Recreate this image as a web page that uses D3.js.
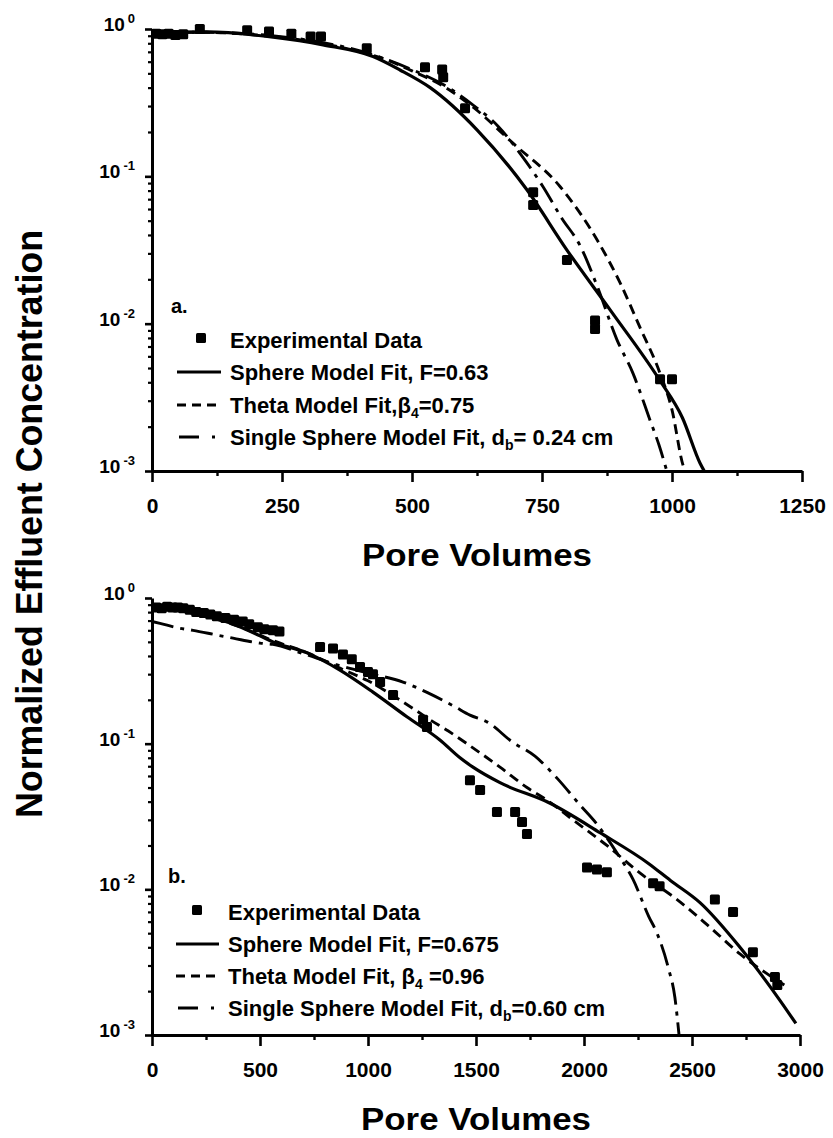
<!DOCTYPE html>
<html><head><meta charset="utf-8">
<script src="https://cdn.jsdelivr.net/npm/d3@7"></script>
<style>
body{margin:0;background:#fff}
text{font-family:"Liberation Sans",Arial,Helvetica,sans-serif;font-weight:bold;fill:#000}
</style>
</head><body>
<svg id="c" width="833" height="1138"></svg>
<script>
// ---------- DATA ----------
// Panel a (x: pore volumes, y: normalized effluent concentration)
const aXTicks = [0, 250, 500, 750, 1000, 1250];
const aXMinor = [125, 375, 625, 875, 1125];
const aExperimental = [[8,0.93],[20,0.92],[32,0.93],[45,0.91],[60,0.92],[92,1.0],[183,0.98],[225,0.96],[268,0.93],[305,0.89],[325,0.89],[413,0.74],[525,0.55],[558,0.53],[560,0.47],[602,0.29],[733,0.078],[733,0.064],[798,0.027],[852,0.0105],[852,0.0092],[977,0.0042],[1000,0.0042]];
const aSphere = [[0,0.94],[105,0.955],[233,0.88],[329,0.78],[425,0.65],[477,0.527],[535,0.40],[625,0.207],[721,0.081],[798,0.0316],[881,0.0124],[977,0.0041],[1020,0.0023],[1054,0.00113],[1062,0.001]];
const aTheta = [[0,0.95],[100,0.95],[200,0.91],[300,0.83],[400,0.70],[450,0.62],[500,0.52],[560,0.41],[620,0.29],[694,0.168],[785,0.085],[860,0.035],[900,0.019],[938,0.0095],[977,0.0046],[1000,0.0026],[1021,0.0011],[1025,0.001]];
const aSingle = [[0,0.95],[100,0.95],[200,0.92],[300,0.84],[400,0.71],[500,0.53],[560,0.42],[620,0.30],[665,0.22],[713,0.135],[752,0.085],[788,0.052],[823,0.034],[856,0.018],[894,0.0078],[925,0.0046],[958,0.0022],[975,0.0015],[990,0.001]];
const aLegend = ["Experimental Data","Sphere Model Fit, F=0.63","Theta Model Fit,|β|4|=0.75","Single Sphere Model Fit, |d|b|= 0.24 cm"];

// Panel b
const bXTicks = [0, 500, 1000, 1500, 2000, 2500, 3000];
const bXMinor = [250, 750, 1250, 1750, 2250, 2750];
const bExperimental = [[20,0.86],[45,0.85],[70,0.87],[95,0.86],[120,0.86],[145,0.85],[175,0.83],[205,0.80],[240,0.79],[270,0.77],[300,0.75],[340,0.73],[380,0.71],[420,0.69],[450,0.66],[490,0.63],[520,0.61],[560,0.60],[590,0.59],[778,0.46],[838,0.45],[884,0.41],[925,0.38],[963,0.336],[1000,0.31],[1023,0.30],[1056,0.265],[1116,0.216],[1255,0.146],[1273,0.13],[1472,0.056],[1519,0.048],[1597,0.034],[1681,0.034],[1713,0.029],[1736,0.024],[2014,0.0141],[2060,0.0137],[2106,0.0131],[2320,0.011],[2350,0.0105],[2606,0.0085],[2690,0.0070],[2782,0.0037],[2884,0.0025],[2895,0.0022]];
const bSphere = [[0,0.88],[100,0.84],[200,0.78],[300,0.72],[400,0.64],[500,0.55],[560,0.50],[718,0.42],[870,0.32],[1023,0.226],[1180,0.153],[1333,0.106],[1426,0.080],[1486,0.069],[1611,0.054],[1843,0.039],[2074,0.0245],[2300,0.015],[2400,0.0115],[2537,0.0081],[2722,0.0040],[2907,0.00173],[2981,0.0012]];
const bTheta = [[0,0.88],[200,0.78],[400,0.64],[560,0.51],[720,0.42],[870,0.33],[1000,0.27],[1194,0.18],[1287,0.146],[1372,0.122],[1458,0.100],[1551,0.080],[1611,0.069],[1736,0.050],[1828,0.041],[1949,0.030],[2106,0.020],[2260,0.0129],[2431,0.0085],[2583,0.0055],[2722,0.0036],[2870,0.0025],[2950,0.0021]];
const bSingle = [[0,0.69],[37,0.67],[116,0.625],[190,0.60],[300,0.557],[375,0.53],[500,0.49],[560,0.48],[700,0.415],[850,0.35],[1000,0.305],[1162,0.265],[1273,0.225],[1400,0.18],[1472,0.157],[1555,0.14],[1667,0.103],[1773,0.082],[1875,0.058],[1981,0.038],[2060,0.028],[2150,0.018],[2227,0.0117],[2300,0.0065],[2338,0.005],[2390,0.0029],[2421,0.0018],[2440,0.001]];
const bLegend = ["Experimental Data","Sphere Model Fit, F=0.675","Theta Model Fit, |β|4| =0.96","Single Sphere Model Fit, |d|b|=0.60 cm"];

const yExponents = [0, -1, -2, -3];
const yMinorMultipliers = [2,3,4,5,6,7,8,9];
const xTitle = "Pore Volumes";
const yTitle = "Normalized Effluent Concentration";

// ---------- DRAW ----------
const svg = d3.select("#c");
svg.append("rect").attr("width",833).attr("height",1138).attr("fill","#fff");

const yMajor = yExponents.map(e => Math.pow(10, e));
const yMinor = [];
yExponents.slice(1).forEach(e => yMinorMultipliers.forEach(m => yMinor.push(m * Math.pow(10, e))));

function panel(cfg) {
  const x = d3.scaleLinear().domain([0, cfg.xMax]).range([cfg.x0, cfg.x1]);
  const y = d3.scaleLog().domain([1e-3, 1]).range([cfg.yBot, cfg.yTop]);
  const g = svg.append("g");

  // x axis
  const xa = g.append("g").attr("transform", `translate(0,${cfg.yBot})`)
    .call(d3.axisBottom(x).tickValues(cfg.xTicks).tickSize(11).tickSizeOuter(0).tickPadding(16).tickFormat(d3.format("d")));
  xa.select(".domain").attr("stroke-width", 3);
  xa.selectAll(".tick line").attr("stroke-width", 2.6);
  xa.selectAll(".tick text").attr("font-size", 21).attr("font-family", '"Liberation Sans",Arial,sans-serif').attr("font-weight", "bold");
  const xm = g.append("g").attr("transform", `translate(0,${cfg.yBot})`)
    .call(d3.axisBottom(x).tickValues(cfg.xMinor).tickSize(5).tickFormat(""));
  xm.select(".domain").remove();
  xm.selectAll(".tick line").attr("stroke-width", 2.4);

  // y axis
  const ya = g.append("g").attr("transform", `translate(${cfg.x0},0)`)
    .call(d3.axisLeft(y).tickValues(yMajor).tickSize(7).tickSizeOuter(0).tickFormat(""));
  ya.select(".domain").attr("stroke-width", 3);
  ya.selectAll(".tick line").attr("stroke-width", 2.6);
  const ym = g.append("g").attr("transform", `translate(${cfg.x0},0)`)
    .call(d3.axisLeft(y).tickValues(yMinor).tickSize(4).tickFormat(""));
  ym.select(".domain").remove();
  ym.selectAll(".tick line").attr("stroke-width", 2.2);

  // y tick labels 10^e
  yExponents.forEach(e => {
    const t = g.append("text").attr("x", cfg.x0 - 17).attr("y", y(Math.pow(10, e)) + 2)
      .attr("text-anchor", "end").attr("font-size", 19);
    t.append("tspan").text("10");
    t.append("tspan").attr("font-size", 13).attr("dx", 3).attr("dy", -8).text(String(e));
  });

  // x title
  g.append("text").attr("x", (cfg.x0 + cfg.x1) / 2).attr("y", cfg.yBot + 95)
    .attr("text-anchor", "middle").attr("font-size", 32)
    .attr("textLength", 230).attr("lengthAdjust", "spacingAndGlyphs").text(xTitle);

  // curves
  const line = d3.line().x(d => x(d[0])).y(d => y(d[1])).curve(d3.curveMonotoneX);
  g.append("path").datum(cfg.sphere).attr("d", line).attr("fill", "none").attr("stroke", "#000").attr("stroke-width", 3.2);
  g.append("path").datum(cfg.theta).attr("d", line).attr("fill", "none").attr("stroke", "#000").attr("stroke-width", 2.9).attr("stroke-dasharray", "10,6");
  g.append("path").datum(cfg.single).attr("d", line).attr("fill", "none").attr("stroke", "#000").attr("stroke-width", 2.9).attr("stroke-dasharray", "22,7,4,7");

  // experimental squares
  g.selectAll("rect.pt").data(cfg.exp).enter().append("rect").attr("class", "pt")
    .attr("x", d => x(d[0]) - 5).attr("y", d => y(d[1]) - 5)
    .attr("width", 10).attr("height", 10).attr("rx", 1.5).attr("fill", "#000");

  // panel letter
  g.append("text").attr("x", cfg.letterX).attr("y", cfg.letterY).attr("font-size", 20).text(cfg.letter);

  // legend
  const L = cfg.legendRows;
  cfg.legend.forEach((lab, i) => {
    const by = L[i];
    const t = g.append("text").attr("x", cfg.legendTextX).attr("y", by).attr("font-size", 22);
    const parts = lab.split("|");
    parts.forEach((p, k) => {
      const ts = t.append("tspan").text(p);
      if (k === 2) ts.attr("font-size", 14).attr("dy", 5);
      if (k === 3) ts.attr("dy", -5);
    });
    const ly = by - 8;
    if (i === 0) {
      g.append("rect").attr("x", cfg.markX - 5).attr("y", by - 15).attr("width", 10).attr("height", 10).attr("rx", 1.5).attr("fill", "#000");
    } else if (i === 1) {
      g.append("line").attr("x1", cfg.lineX0).attr("x2", cfg.lineX1).attr("y1", ly).attr("y2", ly).attr("stroke", "#000").attr("stroke-width", 2.8);
    } else if (i === 2) {
      g.append("line").attr("x1", cfg.lineX0).attr("x2", cfg.lineX1 - 2).attr("y1", ly).attr("y2", ly).attr("stroke", "#000").attr("stroke-width", 2.8).attr("stroke-dasharray", "9,6");
    } else {
      g.append("line").attr("x1", cfg.lineX0 + 2).attr("x2", cfg.lineX1).attr("y1", ly).attr("y2", ly).attr("stroke", "#000").attr("stroke-width", 2.8).attr("stroke-dasharray", "20,13,3,100");
    }
  });
}

panel({x0:152, x1:802, yTop:29, yBot:471, xMax:1250, xTicks:aXTicks, xMinor:aXMinor,
  exp:aExperimental, sphere:aSphere, theta:aTheta, single:aSingle,
  letter:"a.", letterX:171, letterY:313, legend:aLegend, legendRows:[348,380,413,445],
  legendTextX:230, markX:201, lineX0:177, lineX1:221});

panel({x0:152, x1:800, yTop:598, yBot:1035, xMax:3000, xTicks:bXTicks, xMinor:bXMinor,
  exp:bExperimental, sphere:bSphere, theta:bTheta, single:bSingle,
  letter:"b.", letterX:168, letterY:883, legend:bLegend, legendRows:[920,952,984,1016],
  legendTextX:228, markX:197, lineX0:176, lineX1:219});

// shared y title
svg.append("text").attr("transform", "translate(42,524) rotate(-90)")
  .attr("text-anchor", "middle").attr("font-size", 36)
  .attr("textLength", 588).attr("lengthAdjust", "spacingAndGlyphs").text(yTitle);
</script>
</body></html>
